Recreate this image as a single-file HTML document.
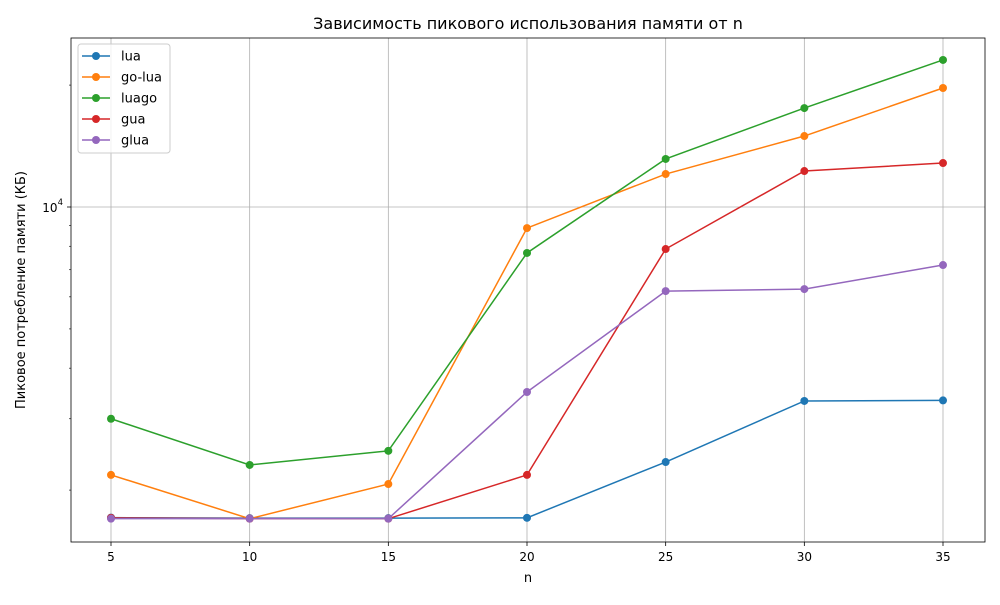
<!DOCTYPE html>
<html><head><meta charset="utf-8"><style>body{margin:0;background:#fff}svg text{font-family:"DejaVu Sans","Liberation Sans",sans-serif}</style></head>
<body>
<svg id="c" width="1000" height="600"></svg>
<script>
const categories=[5,10,15,20,25,30,35];
const seriesNames=["lua","go-lua","luago","gua","glua"];
const colors=["#1f77b4","#ff7f0e","#2ca02c","#d62728","#9467bd"];
const luaVals=[1710,1705,1705,1708,2346,3320,3330];
const goluaVals=[2180,1700,2070,8870,12060,14970,19670];
const luagoVals=[3000,2307,2500,7700,13140,17550,23070];
const guaVals=[1708,1700,1700,2180,7875,12270,12840];
const gluaVals=[1700,1700,1700,3493,6200,6270,7190];
const xTicks=[5,10,15,20,25,30,35];
const allSeries=[luaVals,goluaVals,luagoVals,guaVals,gluaVals];
const L=71,R=985,T=38,B=542;
const X=v=>111+(v-5)*(943-111)/30;
const Y=v=>207-405*Math.log10(v/1e4);
const s=document.getElementById('c');const NS="http://www.w3.org/2000/svg";
function mk(t,a,p){const e=document.createElementNS(NS,t);for(const k in a)e.setAttribute(k,a[k]);(p||s).appendChild(e);return e;}
// grid
xTicks.forEach(t=>{const g=mk('line',{x1:X(t),x2:X(t),y1:T,y2:B,stroke:'#b0b0b0','stroke-width':0.8});


mk('line',{x1:X(t),x2:X(t),y1:B,y2:B+4,stroke:'#000','stroke-width':0.8});
const tx=mk('text',{x:X(t),y:B+19,'font-size':12,'text-anchor':'middle'});tx.textContent=t;

});
mk('line',{x1:L,x2:R,y1:Y(1e4),y2:Y(1e4),stroke:'#b0b0b0','stroke-width':0.8});
mk('line',{x1:L-4,x2:L,y1:Y(1e4),y2:Y(1e4),stroke:'#000','stroke-width':0.8});
[2000,3000,4000,5000,6000,7000,8000,9000,20000].forEach(v=>mk('line',{x1:L-2,x2:L,y1:Y(v),y2:Y(v),stroke:'#000','stroke-width':0.6}));
const yl=mk('text',{x:L-8,y:Y(1e4)+5,'font-size':12,'text-anchor':'end'});yl.innerHTML='10<tspan dy="-7" font-size="8.5">4</tspan>';


// series
allSeries.forEach((vals,i)=>{const g=mk('g',{});


mk('polyline',{points:vals.map((v,j)=>X(categories[j])+','+Y(v)).join(' '),fill:'none',stroke:colors[i],'stroke-width':1.5},g);
vals.forEach((v,j)=>{const c=mk('circle',{cx:X(categories[j]),cy:Y(v),r:4,fill:colors[i]},g);

});});
const fr=mk('rect',{x:L,y:T,width:R-L,height:B-T,fill:'none',stroke:'#000','stroke-width':0.8});


// legend
const lg=mk('g',{});


mk('rect',{x:78,y:44,width:92,height:109,rx:3,fill:'#fff','fill-opacity':0.8,stroke:'#ccc'},lg);
seriesNames.forEach((n,i)=>{const y=56+i*21;
mk('line',{x1:82,x2:110,y1:y,y2:y,stroke:colors[i],'stroke-width':1.5},lg);
mk('circle',{cx:96,cy:y,r:4,fill:colors[i]},lg);
const t=mk('text',{x:121,y:y+4.5,'font-size':13},lg);t.textContent=n;

});
const ti=mk('text',{x:528,y:29,'font-size':16,'text-anchor':'middle'});ti.textContent='Зависимость пикового использования памяти от n';


const xt=mk('text',{x:528,y:582,'font-size':13,'text-anchor':'middle'});xt.textContent='n';


const yt=mk('text',{x:25,y:290,'font-size':13,'text-anchor':'middle',transform:'rotate(-90 25 290)'});yt.textContent='Пиковое потребление памяти (КБ)';


</script>
</body></html>
